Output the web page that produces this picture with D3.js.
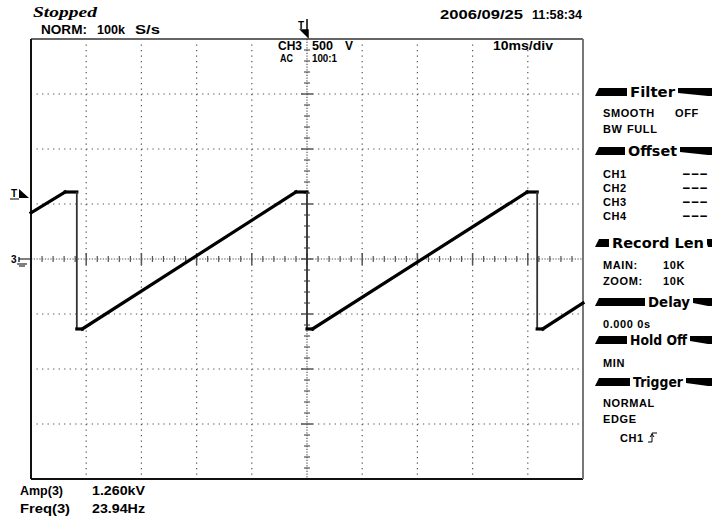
<!DOCTYPE html>
<html><head><meta charset="utf-8">
<script src="https://cdn.jsdelivr.net/npm/d3@7"></script>
<style>body{margin:0;background:#fff}svg{display:block}</style>
</head><body><svg id="c" width="716" height="521"></svg>
<script>
// ---------- data ----------
const timeMs = [-50, -43.8, -41.7, -41.7, -40.7, -2.0, 0, 0, 1.0, 39.9, 41.7, 41.7, 42.7, 50];
const volts  = [420, 609, 609, -636, -636, 609, 609, -636, -636, 609, 609, -636, -636, -400];
const timeDomain = [-50, 50];      // 10 ms/div
const voltDomain = [-2000, 2000];  // 500 V/div
const xDivs = 10, yDivs = 8;
const headerTexts = ["Stopped", "NORM:", "100k", "S/s", "2006/09/25", "11:58:34"];
const scaleTexts = ["CH3", "500", "V", "AC", "100:1", "10ms/div"];
const measLabels = ["Amp(3)", "Freq(3)"];
const measValues = ["1.260kV", "23.94Hz"];
const panelTitles = ["Filter", "Offset", "Record Len", "Delay", "Hold Off", "Trigger"];
const panelLabels = ["SMOOTH", "BW", "CH1", "CH2", "CH3", "CH4", "MAIN:", "ZOOM:", "0.000 0s", "MIN", "NORMAL", "EDGE", "CH1"];
const panelValues = ["OFF", "FULL", "---", "---", "---", "---", "10K", "10K", "", "", "", "", ""];

// ---------- layout ----------
const L = 31, R = 583, T = 39, B = 479;
const titleBase = [97, 156, 248, 307, 345, 387];
const titleX = [630, 628, 612, 648, 630, 633];
const titleW = [45, 49, 92, 42, 57, 50];
const rowBase = [117, 133, 178, 192, 206, 220, 269, 285, 328, 367, 407, 423, 442];
const rowX = [603, 603, 603, 603, 603, 603, 603, 603, 603, 603, 603, 603, 620];
const valX = [675, 627, 682, 682, 682, 682, 663, 663, 0, 0, 0, 0, 0];

const svg = d3.select("#c");
const x = d3.scaleLinear().domain(timeDomain).range([L, R]);
const y = d3.scaleLinear().domain(voltDomain).range([B, T]);
const font = "'Liberation Sans', Arial, sans-serif";

// ---------- grid ----------
const g = svg.append("g");
const xStep = (timeDomain[1] - timeDomain[0]) / xDivs;
const yStep = (voltDomain[1] - voltDomain[0]) / yDivs;
const xMaj = d3.range(1, xDivs).map(i => timeDomain[0] + i * xStep);
const yMaj = d3.range(1, yDivs).map(i => voltDomain[0] + i * yStep);
const dx = (R - L) / xDivs / 10, dy = (B - T) / yDivs / 10;
xMaj.filter(v => Math.abs(v) > 1e-9).forEach(v => {
  g.append("line").attr("x1", x(v)).attr("x2", x(v)).attr("y1", T + dy).attr("y2", B)
    .attr("stroke", "#555").attr("stroke-width", 1.2).attr("stroke-dasharray", `1.3,${dy - 1.3}`);
});
yMaj.filter(v => Math.abs(v) > 1e-9).forEach(v => {
  g.append("line").attr("x1", L + dx).attr("x2", R).attr("y1", y(v)).attr("y2", y(v))
    .attr("stroke", "#555").attr("stroke-width", 1.2).attr("stroke-dasharray", `1.3,${dx - 1.3}`);
});
g.append("line").attr("x1", x(0)).attr("x2", x(0)).attr("y1", T).attr("y2", B)
  .attr("stroke", "#555").attr("stroke-width", 1.2).attr("stroke-dasharray", `1.3,${dy / 2 - 1.3}`);
g.append("line").attr("x1", L).attr("x2", R).attr("y1", y(0)).attr("y2", y(0))
  .attr("stroke", "#555").attr("stroke-width", 1.2).attr("stroke-dasharray", `1.3,${dx / 2 - 1.3}`);
d3.range(1, xDivs * 5).forEach(i => {
  const xv = L + i * dx * 2, major = i % 5 === 0;
  g.append("line").attr("x1", xv).attr("x2", xv)
    .attr("y1", y(0) - (major ? 6 : 3)).attr("y2", y(0) + (major ? 6 : 3))
    .attr("stroke", "#555").attr("stroke-width", major ? 1.5 : 1.2);
});
d3.range(1, yDivs * 5).forEach(i => {
  const yv = T + i * dy * 2, major = i % 5 === 0;
  g.append("line").attr("y1", yv).attr("y2", yv)
    .attr("x1", x(0) - (major ? 6 : 3)).attr("x2", x(0) + (major ? 6 : 3))
    .attr("stroke", "#555").attr("stroke-width", major ? 1.5 : 1.2);
});

// ---------- frame ----------
svg.append("line").attr("x1", L).attr("x2", R).attr("y1", T).attr("y2", T).attr("stroke", "#333").attr("stroke-width", 1.5);
svg.append("line").attr("x1", L).attr("x2", R).attr("y1", B).attr("y2", B).attr("stroke", "#111").attr("stroke-width", 2);
svg.append("line").attr("x1", L).attr("x2", L).attr("y1", T).attr("y2", B).attr("stroke", "#111").attr("stroke-width", 2);
svg.append("line").attr("x1", R).attr("x2", R).attr("y1", T).attr("y2", B).attr("stroke", "#777").attr("stroke-width", 2);

// ---------- waveform ----------
const pts = timeMs.map((t, i) => [t, volts[i]]);
for (let i = 0; i < pts.length - 1; i++) {
  const a = pts[i], b = pts[i + 1];
  const vert = a[0] === b[0];
  svg.append("line").attr("x1", x(a[0])).attr("y1", y(a[1])).attr("x2", x(b[0])).attr("y2", y(b[1]))
    .attr("stroke", vert ? "#333" : "#000").attr("stroke-width", vert ? 1.8 : 3.2)
    .attr("stroke-linecap", vert ? "butt" : "square");
}

// ---------- markers ----------
svg.append("text").attr("x", x(0) - 9).attr("y", 29).attr("font-family", font).attr("font-weight", "bold")
  .attr("font-size", 10).text("T");
svg.append("path").attr("d", `M${x(0)},19V31M${x(0) - 6},30H${x(0) + 1}V37Z`).attr("stroke", "#000").attr("stroke-width", 1.5).attr("fill", "#000");
const ty = y(volts[1]);
svg.append("text").attr("x", 11).attr("y", ty + 5).attr("font-family", font).attr("font-weight", "bold")
  .attr("font-size", 10).text("T");
svg.append("line").attr("x1", 10).attr("x2", 19).attr("y1", ty + 7).attr("y2", ty + 7).attr("stroke", "#000").attr("stroke-width", 1);
svg.append("path").attr("d", `M19,${ty - 3}L29,${ty + 6}H19Z`).attr("fill", "#000");
const gy = y(0);
svg.append("text").attr("x", 11).attr("y", gy + 4).attr("font-family", font).attr("font-weight", "bold")
  .attr("font-size", 10).text("3");
svg.append("path").attr("d", `M19,${gy - 2}V${gy + 3}M19,${gy}H30M17,${gy + 5}H27M19,${gy + 7}H25`)
  .attr("stroke", "#000").attr("stroke-width", 1.2).attr("fill", "none");

// ---------- texts ----------
function txt(s, xx, yy, size, opts = {}) {
  const t = svg.append("text").attr("x", xx).attr("y", yy).attr("font-family", opts.family || font)
    .attr("font-size", size).attr("font-weight", opts.weight || "bold").attr("fill", "#000").text(s);
  if (opts.style) t.attr("font-style", opts.style);
  if (opts.len) t.attr("textLength", opts.len).attr("lengthAdjust", "spacingAndGlyphs");
  if (opts.ls) t.attr("letter-spacing", opts.ls);
  return t;
}
txt(headerTexts[0], 33, 17, 15, {family: "'Liberation Serif', serif", style: "italic", len: 64});
txt(headerTexts[1], 41, 34, 12.5, {len: 46});
txt(headerTexts[2], 97, 34, 12.5, {len: 28});
txt(headerTexts[3], 135, 34, 12.5, {len: 25});
txt(headerTexts[4], 440, 19, 12.5, {len: 83});
txt(headerTexts[5], 532, 19, 12.5, {len: 50});

// channel scale labels
txt(scaleTexts[0], 278, 50, 12, {len: 24});
txt(scaleTexts[1], 312, 50, 12, {len: 21});
txt(scaleTexts[2], 345, 50, 12, {len: 8});
txt(scaleTexts[3], 280, 62, 10, {len: 13});
txt(scaleTexts[4], 312, 62, 10, {len: 25});
txt(scaleTexts[5], 493, 50, 12, {len: 60});

txt(measLabels[0], 20, 495, 12, {len: 43});
txt(measValues[0], 92, 495, 12, {len: 53});
txt(measLabels[1], 20, 513, 12, {len: 50});
txt(measValues[1], 92, 513, 12, {len: 53});

// ---------- side panel ----------
panelTitles.forEach((s, i) => {
  txt(s, titleX[i], titleBase[i], 13.5, {family: "'DejaVu Sans', sans-serif", len: titleW[i]});
  const x0 = 595, x1 = titleX[i] - 3, x2 = titleX[i] + titleW[i] + 3, x3 = 712;
  const top = titleBase[i] - 9, bot = titleBase[i] - 1;
  svg.append("path").attr("d", `M${x0},${bot}L${x0 + 4},${top}H${x1}V${bot}Z`).attr("fill", "#000");
  svg.append("path").attr("d", `M${x2},${top}H${x3}V${bot}H${x3 - 4}L${x2},${top + 5}Z`).attr("fill", "#000");
});
panelLabels.forEach((s, i) => {
  txt(s, rowX[i], rowBase[i], 11, {ls: 0.6});
  if (panelValues[i] === "---") txt(panelValues[i], valX[i], rowBase[i], 12, {len: 26});
  else if (panelValues[i]) txt(panelValues[i], valX[i], rowBase[i], 11, {ls: 0.6});
});
const sy = rowBase[12];
svg.append("path").attr("d", `M648,${sy}H652V${sy - 9}H657M650,${sy - 5}L652,${sy - 8}L654,${sy - 5}`)
  .attr("stroke", "#000").attr("stroke-width", 1).attr("fill", "none");
</script></body></html>
